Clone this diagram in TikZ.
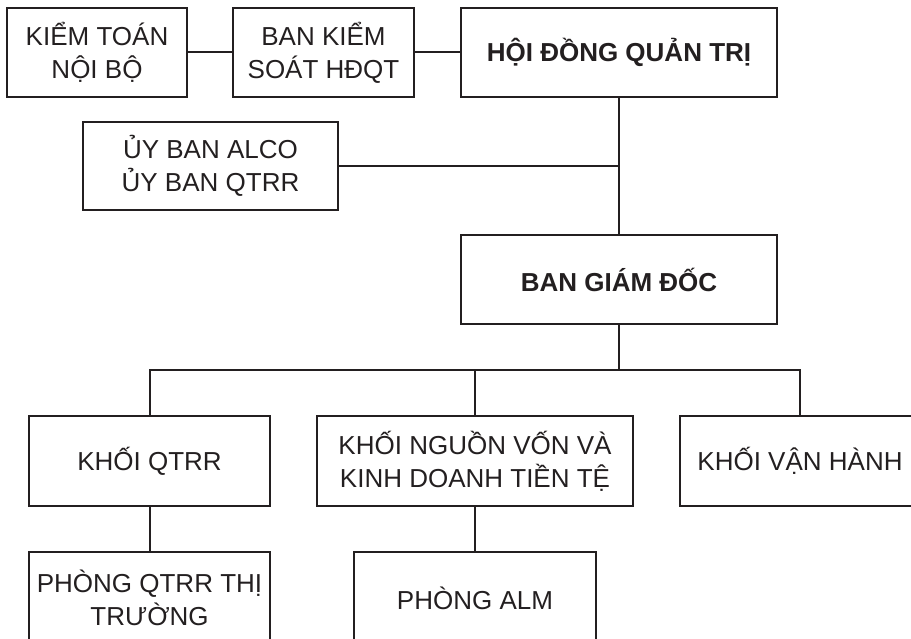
\documentclass[tikz,border=0pt]{standalone}
\usepackage{fontspec}
\setmainfont{Liberation Sans}
\usetikzlibrary{positioning}
\definecolor{inkgray}{RGB}{35,31,32}

\begin{document}
\begin{tikzpicture}[x=1pt,y=-1pt,
  unit/.style={draw=inkgray,line width=1.3pt,text=inkgray,align=center,inner sep=0pt,
    font=\fontsize{26}{33}\selectfont,minimum height=89pt},
  head/.style={unit,font=\fontsize{26}{33}\selectfont\bfseries},
  link/.style={draw=inkgray,line width=2pt}]
\useasboundingbox (0,0) rectangle (911,639);
% top row
\node[unit,minimum width=180pt] (kt) at (97,52.5) {KIỂM TOÁN\\NỘI BỘ};
\node[unit,minimum width=181pt] (bks) at (323.5,52.5) {BAN KIỂM\\SOÁT HĐQT};
\node[head,minimum width=316pt] (hdqt) at (619,52.5) {HỘI ĐỒNG QUẢN TRỊ};
% committees and board
\node[unit,minimum width=255pt,minimum height=88pt] (uyban) at (210.5,166) {ỦY BAN ALCO\\ỦY BAN QTRR};
\node[head,minimum width=316pt] (bgd) at (619,279.5) {BAN GIÁM ĐỐC};
% blocks
\node[unit,minimum width=241pt,minimum height=90pt] (qtrr) at (149.5,461) {KHỐI QTRR};
\node[unit,minimum width=316pt,minimum height=90pt] (nv) at (475,461) {KHỐI NGUỒN VỐN VÀ\\KINH DOANH TIỀN TỆ};
\node[unit,minimum width=240pt,minimum height=90pt] (vh) at (800,461) {KHỐI VẬN HÀNH};
% departments
\node[unit,minimum width=241pt,minimum height=92pt] (pqtrr) at (149.5,598) {PHÒNG QTRR THỊ\\TRƯỜNG};
\node[unit,minimum width=242pt,minimum height=92pt] (alm) at (475,598) {PHÒNG ALM};

\coordinate (bus) at (619,370);
\draw[link] (kt) -- (bks);
\draw[link] (bks) -- (hdqt);
\draw[link] (hdqt) -- (bgd);
\draw[link] (uyban.east) -- (uyban.east -| hdqt.south);
\draw[link] (bgd) -- (bus);
\draw[link] (qtrr.north) |- (bus) -| (vh.north);
\draw[link] (nv.north) -- (nv.north |- bus);
\draw[link] (qtrr) -- (pqtrr);
\draw[link] (nv) -- (alm);
\end{tikzpicture}
\end{document}
